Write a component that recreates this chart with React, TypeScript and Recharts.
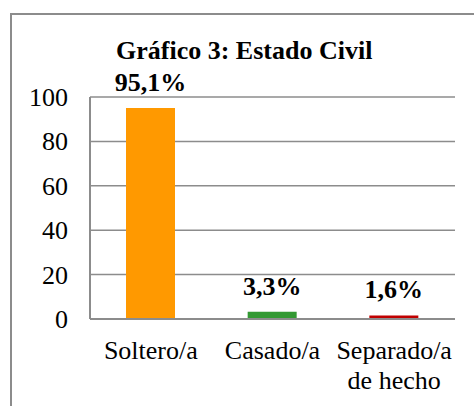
import { BarChart, Bar, XAxis, YAxis, CartesianGrid, Cell, LabelList } from "recharts";

const categories = ["Soltero/a", "Casado/a", "Separado/a de hecho"];
const values = [95.1, 3.3, 1.6];
const valueLabels = ["95,1%", "3,3%", "1,6%"];
const yTicks = [0, 20, 40, 60, 80, 100];
const COLORS = ["#FF9900", "#339933", "#C00000"];

const data = categories.map((name, i) => ({
  name,
  value: values[i],
  label: valueLabels[i],
}));

const FONT = "Liberation Serif";
const GRAY = "#8c8c8c";

const XTick = ({ x, y, payload }: any) => {
  const lines: string[] =
    payload.value === "Separado/a de hecho" ? ["Separado/a", "de hecho"] : [payload.value];
  return (
    <text x={x} y={y} textAnchor="middle" style={{ fontFamily: FONT, fontSize: 26 }} fill="#000">
      {lines.map((l, i) => (
        <tspan key={i} x={x} dy={i === 0 ? 40 : 30}>
          {l}
        </tspan>
      ))}
    </text>
  );
};

const YTick = ({ x, y, payload }: any) => (
  <text x={x} y={y} dy={9} textAnchor="end" style={{ fontFamily: FONT, fontSize: 26 }} fill="#000">
    {payload.value}
  </text>
);

const ValueLabel = ({ x, y, width, value }: any) => (
  <text
    x={x + width / 2}
    y={y - 17}
    textAnchor="middle"
    style={{ fontFamily: FONT, fontSize: 26, fontWeight: "bold" }}
    fill="#000"
  >
    {value}
  </text>
);

export default function App() {
  return (
    <div style={{ position: "absolute", left: 0, top: 0, width: 474, height: 406, overflow: "hidden", background: "#fff", fontFamily: FONT }}>
      <style>{"svg text { font-family: 'Liberation Serif', serif; }"}</style>
      <div
        style={{
          position: "absolute",
          left: 10,
          top: 13,
          width: 500,
          height: 450,
          border: `2px solid ${GRAY}`,
          boxSizing: "border-box",
        }}
      />
      <BarChart
        width={474}
        height={406}
        data={data}
        margin={{ top: 97, right: 19, left: 0, bottom: 0 }}
        style={{ position: "absolute", left: 0, top: 0 }}
      >
        <CartesianGrid vertical={false} stroke={GRAY} strokeWidth={1.5} />
        <XAxis
          dataKey="name"
          height={87}
          tickLine={false}
          tickSize={0}
          tickMargin={0}
          axisLine={{ stroke: GRAY, strokeWidth: 2 }}
          tick={<XTick />}
          interval={0}
        />
        <YAxis
          width={90}
          domain={[0, 100]}
          ticks={yTicks}
          tickLine={false}
          tickSize={0}
          tickMargin={22}
          axisLine={{ stroke: GRAY, strokeWidth: 2 }}
          tick={<YTick />}
        />
        <Bar dataKey="value" isAnimationActive={false} barSize={49}>
          {data.map((_, i) => (
            <Cell key={i} fill={COLORS[i]} />
          ))}
          <LabelList dataKey="label" content={<ValueLabel />} />
        </Bar>
      </BarChart>
      <svg width={474} height={406} style={{ position: "absolute", left: 0, top: 0, pointerEvents: "none" }}>
        <text x={116} y={59} style={{ fontFamily: FONT, fontSize: 26, fontWeight: "bold" }} fill="#000">
          Gráfico 3: Estado Civil
        </text>
      </svg>
    </div>
  );
}
